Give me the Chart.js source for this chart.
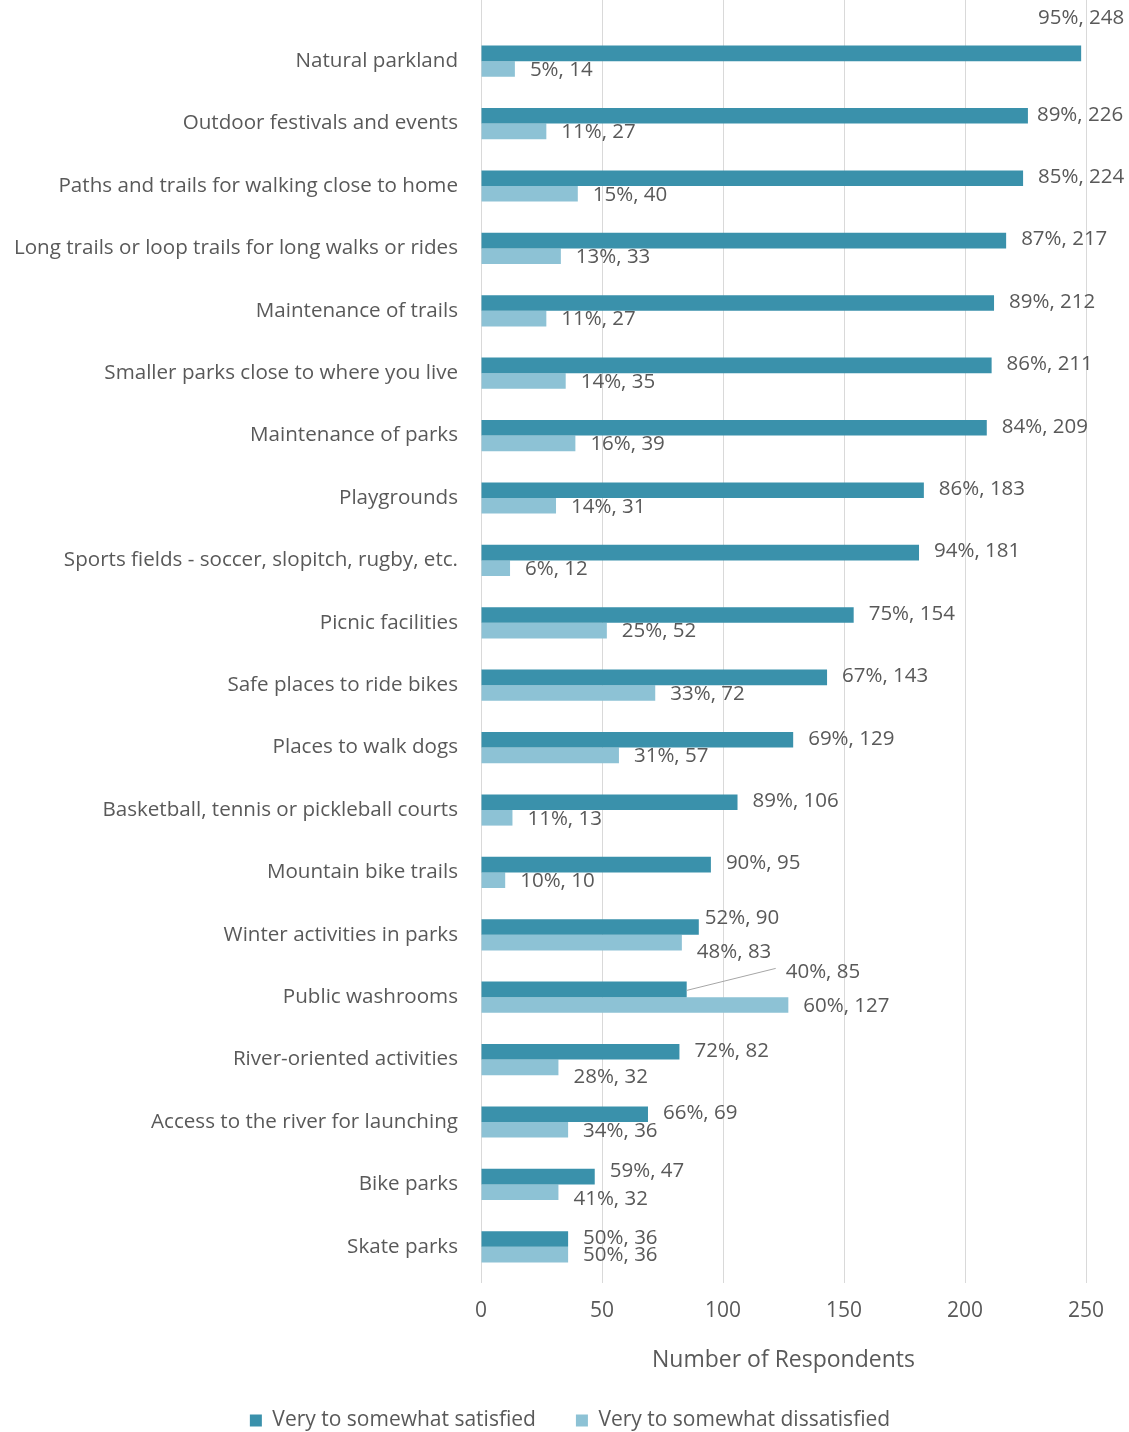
<!DOCTYPE html>
<html>
<head>
<meta charset="utf-8">
<script src="https://cdn.jsdelivr.net/npm/chart.js@4.4.1/dist/chart.umd.min.js"></script>
<style>
  html, body { margin: 0; padding: 0; background: #ffffff; }
  #wrap { width: 1129px; height: 1432px; }
</style>
</head>
<body>
<div id="wrap"><canvas id="c" width="1129" height="1432"></canvas></div>
<script>
const categories = [
  "Natural parkland",
  "Outdoor festivals and events",
  "Paths and trails for walking close to home",
  "Long trails or loop trails for long walks or rides",
  "Maintenance of trails",
  "Smaller parks close to where you live",
  "Maintenance of parks",
  "Playgrounds",
  "Sports fields - soccer, slopitch, rugby, etc.",
  "Picnic facilities",
  "Safe places to ride bikes",
  "Places to walk dogs",
  "Basketball, tennis or pickleball courts",
  "Mountain bike trails",
  "Winter activities in parks",
  "Public washrooms",
  "River-oriented activities",
  "Access to the river for launching",
  "Bike parks",
  "Skate parks"
];
const satisfiedCounts    = [248, 226, 224, 217, 212, 211, 209, 183, 181, 154, 143, 129, 106, 95, 90, 85, 82, 69, 47, 36];
const satisfiedPct       = [95, 89, 85, 87, 89, 86, 84, 86, 94, 75, 67, 69, 89, 90, 52, 40, 72, 66, 59, 50];
const dissatisfiedCounts = [14, 27, 40, 33, 27, 35, 39, 31, 12, 52, 72, 57, 13, 10, 83, 127, 32, 36, 32, 36];
const dissatisfiedPct    = [5, 11, 15, 13, 11, 14, 16, 14, 6, 25, 33, 31, 11, 10, 48, 60, 28, 34, 41, 50];
const xTicks = [0, 50, 100, 150, 200, 250];
const seriesNames = ["Very to somewhat satisfied", "Very to somewhat dissatisfied"];

const DARK = "#3a91ab";
const LIGHT = "#8dc2d5";
const TEXT = "#595959";
const FONT = "'Open Sans', sans-serif";

// label drawing plugin (manual nudges for overlapping labels, as in the original)
const labelPlugin = {
  id: "barLabels",
  afterDatasetsDraw(chart) {
    const ctx = chart.ctx;
    ctx.save();
    ctx.font = "20.5px " + FONT;
    ctx.fillStyle = TEXT;
    ctx.textBaseline = "middle";
    const pcts = [satisfiedPct, dissatisfiedPct];
    chart.data.datasets.forEach((ds, di) => {
      const meta = chart.getDatasetMeta(di);
      meta.data.forEach((bar, i) => {
        const txt = pcts[di][i] + "%, " + ds.data[i];
        let x = bar.x + 15;
        let y = bar.y + (di === 0 ? -1 : 1);
        ctx.textAlign = "left";
        if (di === 0 && i === 0) { ctx.textAlign = "center"; x = bar.x; y = bar.y - 35; }
        if (di === 0 && i === 1) { x = bar.x + 9; }
        if (i === 14) { y += di === 0 ? -8 : 9; if (di === 0) x = bar.x + 6; }
        if (i === 16 && di === 1) { y += 9; }
        if (i === 18) { y += di === 0 ? -4 : 6; }
        if (i === 15 && di === 0) {
          ctx.strokeStyle = "#a6a6a6";
          ctx.lineWidth = 1;
          ctx.beginPath();
          ctx.moveTo(bar.x, bar.y + 1);
          ctx.lineTo(bar.x + 89, bar.y - 21);
          ctx.stroke();
          x = bar.x + 99; y = bar.y - 17;
        }
        ctx.fillText(txt, x, y);
      });
    });
    ctx.restore();
  }
};

// extend vertical gridlines to the top of the canvas like the original; nudge legend
const gridExtend = {
  id: "gridExtend",
  afterLayout(chart) {
    if (chart.legend) { chart.legend.left += 27; chart.legend.right += 27; }
  },
  beforeDatasetsDraw(chart) {
    const ctx = chart.ctx;
    const xs = chart.scales.x;
    ctx.save();
    ctx.strokeStyle = "#d9d9d9";
    ctx.lineWidth = 1;
    xs.ticks.forEach(t => {
      const px = Math.round(xs.getPixelForValue(t.value)) + 0.5;
      ctx.beginPath();
      ctx.moveTo(px, 0);
      ctx.lineTo(px, chart.chartArea.top);
      ctx.moveTo(px, chart.chartArea.bottom);
      ctx.lineTo(px, chart.chartArea.bottom + 5);
      ctx.stroke();
    });
    ctx.restore();
  }
};

new Chart(document.getElementById("c"), {
  type: "bar",
  data: {
    labels: categories,
    datasets: [
      { label: seriesNames[0], data: satisfiedCounts, backgroundColor: DARK, categoryPercentage: 0.5, barPercentage: 1.0 },
      { label: seriesNames[1], data: dissatisfiedCounts, backgroundColor: LIGHT, categoryPercentage: 0.5, barPercentage: 1.0 }
    ]
  },
  options: {
    indexAxis: "y",
    responsive: false,
    animation: false,
    devicePixelRatio: 1,
    layout: { padding: { top: 30, right: 43, left: 0, bottom: -9 } },
    scales: {
      x: {
        min: 0, max: 250,
        afterBuildTicks(scale) { scale.ticks = xTicks.map(v => ({ value: v })); },
        grid: { color: "#d9d9d9", drawTicks: false },
        border: { display: false },
        ticks: { color: TEXT, font: { family: FONT, size: 21 }, padding: 20 },
        title: { display: true, text: "Number of Respondents", color: TEXT, font: { family: FONT, size: 23 }, padding: { top: 0, bottom: -4 } },
        afterFit(scale) { scale.height = 92; }
      },
      y: {
        grid: { display: false, drawTicks: false },
        border: { display: false },
        ticks: { color: TEXT, font: { family: FONT, size: 20.6 }, padding: 23, autoSkip: false },
        afterFit(scale) { scale.width = 481; scale.paddingTop = 0; scale.paddingBottom = 0; }
      }
    },
    plugins: {
      legend: {
        position: "bottom",
        labels: { color: TEXT, font: { family: FONT, size: 21 }, boxWidth: 12, boxHeight: 12, padding: 40 }
      },
      tooltip: { enabled: false }
    }
  },
  plugins: [labelPlugin, gridExtend]
});
</script>
</body>
</html>
